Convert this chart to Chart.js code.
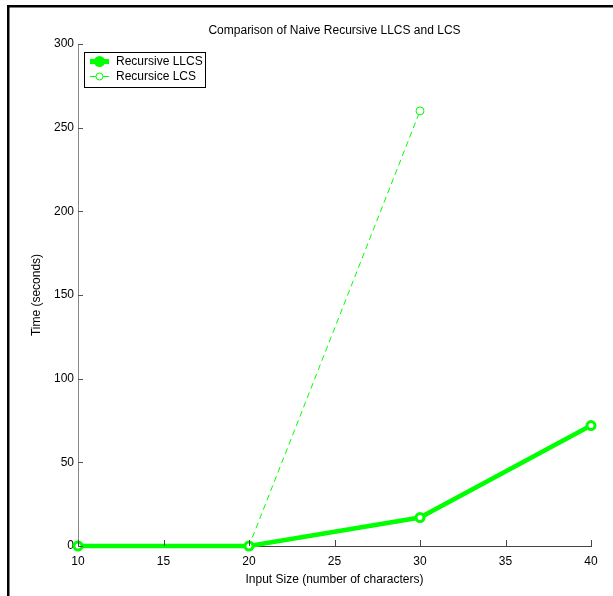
<!DOCTYPE html>
<html>
<head>
<meta charset="utf-8">
<script src="https://cdn.jsdelivr.net/npm/chart.js@4/dist/chart.umd.min.js"></script>
<style>
  html, body { margin: 0; padding: 0; background: #fff; }
  #wrap { position: relative; width: 613px; height: 596px; }
</style>
</head>
<body>
<div id="wrap"><canvas id="c" width="613" height="596"></canvas></div>
<script>
// Timing measurements (seconds) by input size (characters)
const llcsSizes = [10, 20, 30, 40];
const llcsTimes = [0, 0, 17, 72];
const lcsSizes = [10, 20, 30];
const lcsTimes = [0, 0, 260];

const xTickValues = [10, 15, 20, 25, 30, 35, 40];
const yTickValues = [0, 50, 100, 150, 200, 250, 300];

const seriesNames = ['Recursive LLCS', 'Recursice LCS'];
const chartTitle = 'Comparison of Naive Recursive LLCS and LCS';
const xTitle = 'Input Size (number of characters)';
const yTitle = 'Time (seconds)';

const GREEN = '#00ff00';
const FONT = '"Liberation Sans", Arial, Helvetica, sans-serif';

function toPoints(xs, ys) {
  return xs.map((x, i) => ({ x: x, y: ys[i] }));
}

// Black frame along the left and top edges of the figure
const figureFrame = {
  id: 'figureFrame',
  afterDraw(chart) {
    const ctx = chart.ctx;
    ctx.save();
    ctx.fillStyle = '#000';
    ctx.fillRect(7, 5, chart.width - 7, 2.5);
    ctx.fillRect(7, 5, 2.5, chart.height - 5);
    ctx.restore();
  }
};

// Tick marks pointing into the plot area
const innerTicks = {
  id: 'innerTicks',
  afterDatasetsDraw(chart) {
    const ctx = chart.ctx;
    const a = chart.chartArea;
    const xs = chart.scales.x, ys = chart.scales.y;
    ctx.save();
    ctx.lineWidth = 1;
    ctx.strokeStyle = '#444';
    ctx.beginPath();
    xs.ticks.forEach(t => {
      const px = Math.round(xs.getPixelForValue(t.value)) + 0.5;
      ctx.moveTo(px, a.bottom);
      ctx.lineTo(px, a.bottom - 6);
    });
    ctx.stroke();
    ctx.strokeStyle = '#555';
    ctx.beginPath();
    ys.ticks.forEach(t => {
      const py = Math.round(ys.getPixelForValue(t.value)) + 0.5;
      ctx.moveTo(a.left, py);
      ctx.lineTo(a.left + 5, py);
    });
    ctx.stroke();
    ctx.restore();
  }
};

// Boxed legend in the upper-left corner of the axes
const boxLegend = {
  id: 'boxLegend',
  afterDatasetsDraw(chart) {
    const ctx = chart.ctx;
    const a = chart.chartArea;
    const x0 = Math.round(a.left) + 6, y0 = Math.round(a.top) + 8;
    const w = 121, h = 35;
    ctx.save();
    ctx.fillStyle = '#fff';
    ctx.fillRect(x0, y0, w, h);
    ctx.strokeStyle = '#000';
    ctx.lineWidth = 1;
    ctx.strokeRect(x0 + 0.5, y0 + 0.5, w, h);
    chart.data.datasets.forEach((ds, i) => {
      const cy = y0 + 9.5 + i * 15;
      const lx0 = x0 + 6, lx1 = x0 + 25, cx = (lx0 + lx1) / 2;
      ctx.strokeStyle = ds.borderColor;
      ctx.lineWidth = i === 0 ? 5 : 1;
      ctx.setLineDash([]);
      ctx.beginPath();
      ctx.moveTo(lx0, cy);
      ctx.lineTo(lx1, cy);
      ctx.stroke();
      ctx.beginPath();
      if (i === 0) {
        ctx.arc(cx, cy, 5.5, 0, Math.PI * 2);
        ctx.fillStyle = ds.borderColor;
        ctx.fill();
      } else {
        ctx.arc(cx, cy, 3.5, 0, Math.PI * 2);
        ctx.fillStyle = '#fff';
        ctx.fill();
        ctx.lineWidth = 1;
        ctx.stroke();
      }
      ctx.fillStyle = '#000';
      ctx.font = '12px ' + FONT;
      ctx.textBaseline = 'middle';
      ctx.textAlign = 'left';
      ctx.fillText(ds.label, x0 + 32, cy + 0.5);
    });
    ctx.restore();
  }
};

new Chart(document.getElementById('c'), {
  type: 'line',
  data: {
    datasets: [
      {
        label: seriesNames[0],
        data: toPoints(llcsSizes, llcsTimes),
        borderColor: GREEN,
        backgroundColor: '#fff',
        borderWidth: 4.5,
        pointRadius: 4,
        pointBorderWidth: 3,
        pointBackgroundColor: '#fff',
        pointBorderColor: GREEN,
        tension: 0,
        clip: false,
        order: 1
      },
      {
        label: seriesNames[1],
        data: toPoints(lcsSizes, lcsTimes),
        borderColor: GREEN,
        backgroundColor: '#fff',
        borderWidth: 1,
        borderDash: [6, 4],
        pointRadius: 4,
        pointBorderWidth: 1,
        pointBackgroundColor: '#fff',
        pointBorderColor: GREEN,
        tension: 0,
        clip: false,
        order: 2
      }
    ]
  },
  options: {
    responsive: false,
    animation: false,
    devicePixelRatio: 1,
    layout: { padding: { left: 0, right: 22, top: 0, bottom: 0 } },
    plugins: {
      legend: { display: false },
      tooltip: { enabled: false },
      title: {
        display: true,
        text: chartTitle,
        fullSize: false,
        color: '#000',
        font: { family: FONT, size: 12, weight: 'normal' },
        padding: { top: 23, bottom: 6.6 }
      }
    },
    scales: {
      x: {
        type: 'linear',
        min: 10,
        max: 40,
        afterBuildTicks(scale) { scale.ticks = xTickValues.map(v => ({ value: v })); },
        afterFit(scale) { scale.height = 50; },
        grid: { display: false, drawTicks: false },
        border: { display: true, color: '#444', width: 1 },
        ticks: {
          color: '#000',
          padding: 8,
          maxRotation: 0,
          font: { family: FONT, size: 12 }
        },
        title: {
          display: true,
          text: xTitle,
          color: '#000',
          font: { family: FONT, size: 12 },
          padding: { top: 0, bottom: 9 }
        }
      },
      y: {
        type: 'linear',
        min: 0,
        max: 300,
        afterBuildTicks(scale) { scale.ticks = yTickValues.map(v => ({ value: v })); },
        afterFit(scale) { scale.width = 78; },
        grid: { display: false, drawTicks: false },
        border: { display: true, color: '#888', width: 1 },
        ticks: {
          color: '#000',
          padding: 4,
          font: { family: FONT, size: 12 }
        },
        title: {
          display: true,
          text: yTitle,
          color: '#000',
          font: { family: FONT, size: 12 },
          padding: { top: 29, bottom: 0 }
        }
      }
    }
  },
  plugins: [figureFrame, innerTicks, boxLegend]
});
</script>
</body>
</html>
